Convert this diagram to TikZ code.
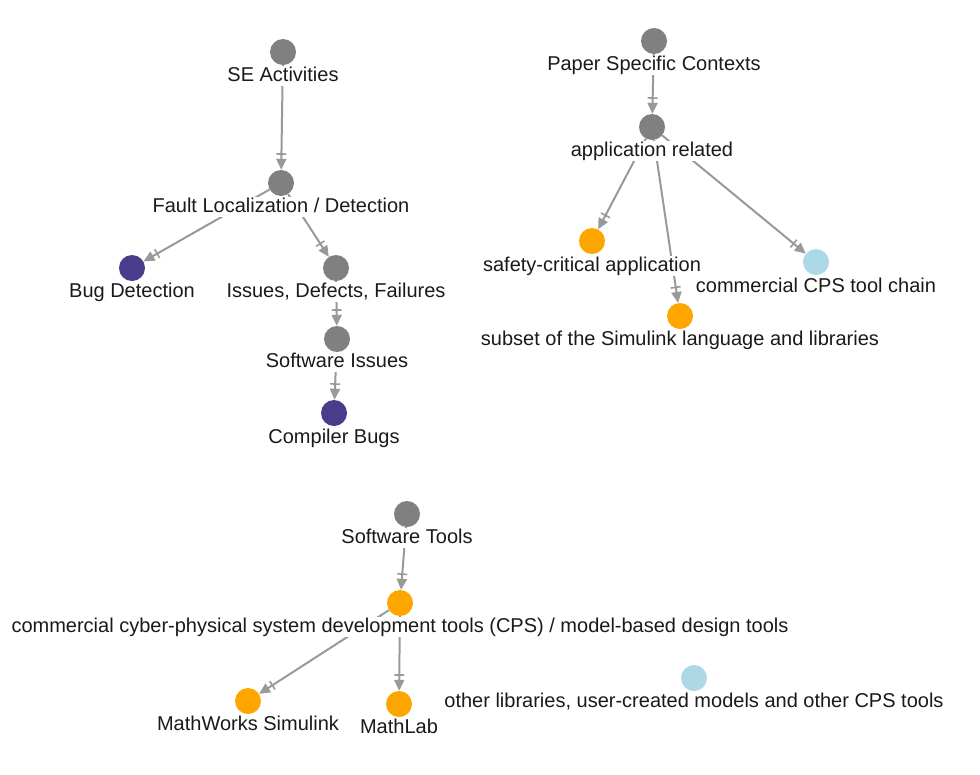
\documentclass[tikz,border=0pt]{standalone}
\usepackage{fontspec}
\setmainfont{Liberation Sans}
\usetikzlibrary{arrows.meta}
\definecolor{ngrey}{HTML}{808080}
\definecolor{npurple}{HTML}{483D8B}
\definecolor{norange}{HTML}{FFA500}
\definecolor{nblue}{HTML}{ADD8E6}
\definecolor{edgec}{HTML}{999999}
\definecolor{txt}{HTML}{1A1A1A}
\tikzset{
  dot/.style={circle,inner sep=0pt,minimum size=26pt,draw=none},
  gdot/.style={dot,fill=ngrey},
  pdot/.style={dot,fill=npurple},
  odot/.style={dot,fill=norange},
  bdot/.style={dot,fill=nblue},
  lbl/.style={anchor=base,inner xsep=1pt,inner ysep=1pt,text height=14.5pt,text depth=4pt,fill=white,text=txt,font=\fontsize{20}{24}\selectfont},
  edge/.style={draw=edgec,line width=2pt,-{Bar[width=10pt,line width=1.6pt,sep=4pt]Stealth[length=11pt,width=10pt,inset=0pt]}}
}
\begin{document}
\begin{tikzpicture}[x=1pt,y=-1pt]
\useasboundingbox (0,0) rectangle (980,774);
% circles
\node[gdot] (se) at (283,52) {};
\node[gdot] (fl) at (281,183) {};
\node[pdot] (bd) at (132,268) {};
\node[gdot] (idf) at (336,268) {};
\node[gdot] (si) at (337,339) {};
\node[pdot] (cb) at (334,413) {};
\node[gdot] (psc) at (654,41) {};
\node[gdot] (ar) at (652,127) {};
\node[odot] (sc) at (592,241) {};
\node[bdot] (cps) at (816,262) {};
\node[odot] (sub) at (680,316) {};
\node[gdot] (st) at (407,514) {};
\node[odot] (cc) at (400,603) {};
\node[odot] (ms) at (248,701) {};
\node[odot] (ml) at (399,704) {};
\node[bdot] (ol) at (694,678) {};
% edges
\draw[edge] (se) -- (fl);
\draw[edge] (fl) -- (bd);
\draw[edge] (fl) -- (idf);
\draw[edge] (idf) -- (si);
\draw[edge] (si) -- (cb);
\draw[edge] (psc) -- (ar);
\draw[edge] (ar) -- (sc);
\draw[edge] (ar) -- (sub);
\draw[edge] (ar) -- (cps);
\draw[edge] (st) -- (cc);
\draw[edge] (cc) -- (ms);
\draw[edge] (cc) -- (ml);
% labels
\node[lbl] (seL) at (283,81) {SE Activities};
\node[lbl] (flL) at (281,212) {Fault Localization / Detection};
\node[lbl] (bdL) at (132,297) {Bug Detection};
\node[lbl] (idfL) at (336,297) {Issues, Defects, Failures};
\node[lbl] (siL) at (337,367) {Software Issues};
\node[lbl] (cbL) at (334,443) {Compiler Bugs};
\node[lbl] (pscL) at (654,70) {Paper Specific Contexts};
\node[lbl] (arL) at (652,156) {application related};
\node[lbl] (scL) at (592,271) {safety-critical application};
\node[lbl] (cpsL) at (816,292) {commercial CPS tool chain};
\node[lbl] (subL) at (680,345) {subset of the Simulink language and libraries};
\node[lbl] (stL) at (407,543) {Software Tools};
\node[lbl] (ccL) at (400,632) {commercial cyber-physical system development tools (CPS) / model-based design tools};
\node[lbl] (msL) at (248,730) {MathWorks Simulink};
\node[lbl] (mlL) at (399,733) {MathLab};
\node[lbl] (olL) at (694,707) {other libraries, user-created models and other CPS tools};
\end{tikzpicture}
\end{document}
